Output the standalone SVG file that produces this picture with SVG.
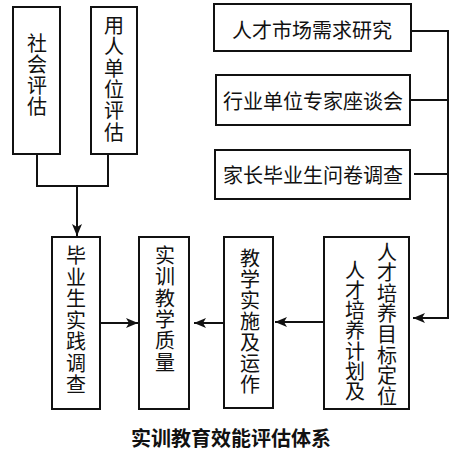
<svg xmlns="http://www.w3.org/2000/svg" width="455" height="451" viewBox="0 0 455 451">
<style>
.box{fill:#fff;stroke:#111;stroke-width:2}
.ln{fill:none;stroke:#111;stroke-width:2}
.t{font-family:"Noto Sans CJK SC","Noto Sans",sans-serif;font-size:20px;fill:#111;text-anchor:middle;dominant-baseline:central}
.v{font-family:"Noto Sans CJK SC","Noto Sans",sans-serif;font-size:20px;fill:#111;writing-mode:vertical-rl;text-anchor:start}
.title{font-family:"Noto Sans CJK SC","Noto Sans",sans-serif;font-size:20px;font-weight:bold;fill:#111;text-anchor:middle}
</style>
<defs>
<marker id="arr" viewBox="0 0 12 10" refX="12" refY="5" markerWidth="12" markerHeight="10" markerUnits="userSpaceOnUse" orient="auto">
<path d="M0,0 L12,5 L0,10 L3,5 z" fill="#111"/>
</marker>
</defs>
<rect width="455" height="451" fill="#fff"/>
<g id="connectors">
<polyline class="ln" points="37,154 37,186 108,186 108,154"/>
<line class="ln" x1="77" y1="186" x2="77" y2="236" marker-end="url(#arr)"/>
<line class="ln" x1="411" y1="31" x2="448" y2="31"/>
<line class="ln" x1="411" y1="100" x2="448" y2="100"/>
<line class="ln" x1="414" y1="174" x2="448" y2="174"/>
<polyline class="ln" points="448,30 448,318 413,318" marker-end="url(#arr)"/>
<line class="ln" x1="101" y1="323" x2="138" y2="323" marker-end="url(#arr)"/>
<line class="ln" x1="224" y1="323" x2="194" y2="323" marker-end="url(#arr)"/>
<line class="ln" x1="324" y1="322" x2="275" y2="322" marker-end="url(#arr)"/>
</g>
<g id="n-shehui">
<rect class="box" x="13" y="7" width="47" height="147"/>
<text class="v" x="37" y="33" letter-spacing="1.3">社会评估</text>
</g>
<g id="n-yongren">
<rect class="box" x="91" y="7" width="46" height="147"/>
<text class="v" x="114" y="15.5" letter-spacing="1.3">用人单位评估</text>
</g>
<g id="n-shichang">
<rect class="box" x="214" y="4" width="197" height="47"/>
<text class="t" x="312" y="29">人才市场需求研究</text>
</g>
<g id="n-hangye">
<rect class="box" x="216" y="75" width="194" height="50"/>
<text class="t" x="313" y="100">行业单位专家座谈会</text>
</g>
<g id="n-jiazhang">
<rect class="box" x="215" y="150" width="195" height="49"/>
<text class="t" x="313" y="174">家长毕业生问卷调查</text>
</g>
<g id="n-biye">
<rect class="box" x="52" y="237" width="48" height="172"/>
<text class="v" x="76" y="245.5" letter-spacing="1.5">毕业生实践调查</text>
</g>
<g id="n-zhiliang">
<rect class="box" x="139" y="237" width="50" height="172"/>
<text class="v" x="165" y="245.5" letter-spacing="1.3">实训教学质量</text>
</g>
<g id="n-shishi">
<rect class="box" x="224" y="237" width="49" height="171"/>
<text class="v" x="250" y="248" letter-spacing="1">教学实施及运作</text>
</g>
<g id="n-rencai">
<rect class="box" x="324" y="237" width="85" height="172"/>
<text class="v" x="387" y="242" letter-spacing="0.6">人才培养目标定位</text>
<text class="v" x="355" y="260" letter-spacing="0.3">人才培养计划及</text>
</g>
<text class="title" x="231" y="446">实训教育效能评估体系</text>
</svg>
